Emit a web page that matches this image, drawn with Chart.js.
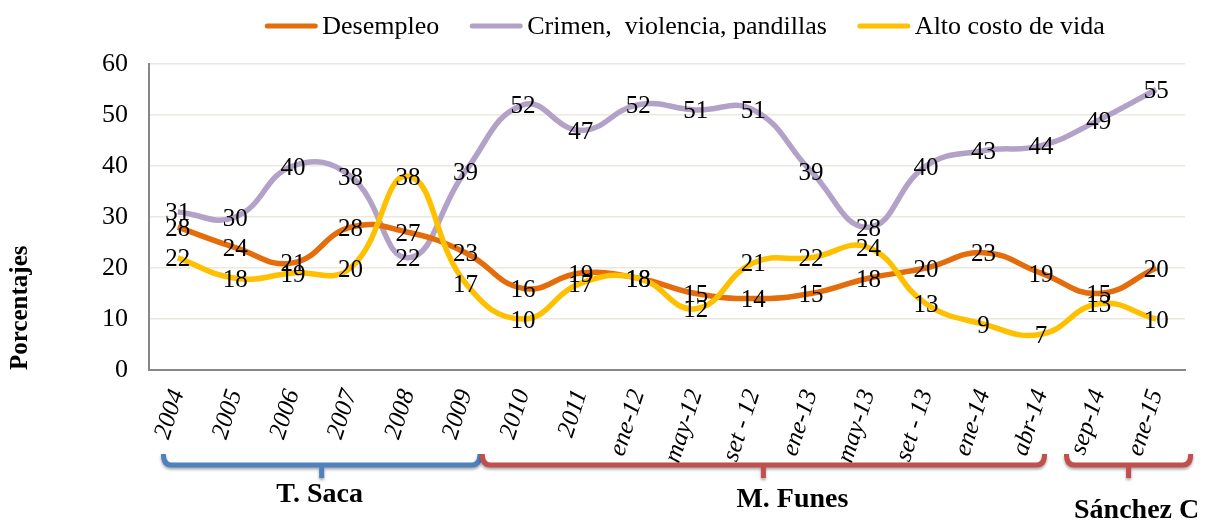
<!DOCTYPE html>
<html>
<head>
<meta charset="utf-8">
<script src="https://cdn.jsdelivr.net/npm/chart.js@4"></script>
<style>
  html, body { margin: 0; padding: 0; background: #fff; }
  #contenedor { width: 1205px; height: 522px; }
</style>
</head>
<body>
<div id="contenedor"><canvas id="grafico"></canvas></div>
<script>
// Datos
const categorias = ["2004", "2005", "2006", "2007", "2008", "2009", "2010", "2011",
  "ene-12", "may-12", "set - 12", "ene-13", "may-13", "set - 13", "ene-14", "abr-14",
  "sep-14", "ene-15"];
const desempleo = [28, 24, 21, 28, 27, 23, 16, 19, 18, 15, 14, 15, 18, 20, 23, 19, 15, 20];
const crimen = [31, 30, 40, 38, 22, 39, 52, 47, 52, 51, 51, 39, 28, 40, 43, 44, 49, 55];
const altoCosto = [22, 18, 19, 20, 38, 17, 10, 17, 18, 12, 21, 22, 24, 13, 9, 7, 13, 10];
const nombresSeries = ["Desempleo", "Crimen,  violencia, pandillas", "Alto costo de vida"];
const gobiernos = ["T. Saca", "M. Funes", "Sánchez C"];
const yMin = 0, yMax = 60, yPaso = 10;

const fuente = "Liberation Serif";

// Etiquetas de valor centradas en cada punto
const etiquetasValores = {
  id: "etiquetasValores",
  afterDatasetsDraw(chart) {
    const ctx = chart.ctx;
    ctx.save();
    ctx.font = "25px '" + fuente + "'";
    ctx.fillStyle = "#000";
    ctx.textAlign = "center";
    ctx.textBaseline = "middle";
    chart.data.datasets.forEach((ds, i) => {
      chart.getDatasetMeta(i).data.forEach((pt, j) => {
        ctx.fillText(String(ds.data[j]), pt.x, pt.y + 2);
      });
    });
    ctx.restore();
  }
};

// Leyenda dibujada a mano (centrada como en el original)
const leyenda = {
  id: "leyenda",
  afterDraw(chart) {
    const ctx = chart.ctx;
    const largo = 52, hueco = 5, sep = 31, y = 26;
    ctx.save();
    ctx.font = "26px '" + fuente + "'";
    const anchos = chart.data.datasets.map(ds => ctx.measureText(ds.label).width);
    const total = anchos.reduce((a, w) => a + largo + hueco + w, 0) + sep * (anchos.length - 1);
    let x = 685 - total / 2;
    chart.data.datasets.forEach((ds, i) => {
      ctx.strokeStyle = ds.borderColor;
      ctx.lineWidth = 5;
      ctx.lineCap = "round";
      ctx.beginPath();
      ctx.moveTo(x + 2, y);
      ctx.lineTo(x + largo - 2, y);
      ctx.stroke();
      ctx.fillStyle = "#000";
      ctx.textAlign = "left";
      ctx.textBaseline = "middle";
      ctx.fillText(ds.label, x + largo + hueco, y + 1);
      x += largo + hueco + anchos[i] + sep;
    });
    ctx.restore();
  }
};

// Llaves de los periodos presidenciales bajo el eje
const llaves = {
  id: "llaves",
  afterDraw(chart) {
    const ctx = chart.ctx;
    const xs = chart.scales.x;
    const tramos = [
      { desde: -0.25, hasta: 5.25, color: "#4F81BD", dx: -2, yTexto: 495 },
      { desde: 5.29, hasta: 15.06, color: "#C0504D", dx: 29, yTexto: 500 },
      { desde: 15.44, hasta: 17.6, color: "#C0504D", dx: 8, yTexto: 511 }
    ];
    ctx.save();
    tramos.forEach((t, i) => {
      const x0 = xs.getPixelForValue(t.desde);
      const x1 = xs.getPixelForValue(t.hasta);
      const xm = (x0 + x1) / 2;
      const yArriba = 454, yLinea = 465, yAbajo = 478;
      ctx.save();
      ctx.shadowColor = "rgba(0,0,0,0.35)";
      ctx.shadowBlur = 3;
      ctx.shadowOffsetY = 2;
      ctx.strokeStyle = t.color;
      ctx.lineWidth = 5;
      ctx.lineJoin = "round";
      ctx.lineCap = "butt";
      ctx.beginPath();
      ctx.moveTo(x0, yArriba);
      ctx.quadraticCurveTo(x0, yLinea, x0 + 8, yLinea);
      ctx.lineTo(x1 - 8, yLinea);
      ctx.quadraticCurveTo(x1, yLinea, x1, yArriba);
      ctx.moveTo(xm, yLinea);
      ctx.lineTo(xm, yAbajo);
      ctx.stroke();
      ctx.restore();
      ctx.font = "bold 28px '" + fuente + "'";
      ctx.fillStyle = "#000";
      ctx.textAlign = "center";
      ctx.textBaseline = "middle";
      ctx.fillText(gobiernos[i], xm + t.dx, t.yTexto);
    });
    ctx.restore();
  }
};

const ctx = document.getElementById("grafico").getContext("2d");
const grafico = new Chart(ctx, {
  type: "line",
  data: {
    labels: categorias,
    datasets: [
      { label: nombresSeries[0], data: desempleo, borderColor: "#E46C0A", order: 1 },
      { label: nombresSeries[1], data: crimen, borderColor: "#B3A2C7", order: 2 },
      { label: nombresSeries[2], data: altoCosto, borderColor: "#FFC000", order: 0 }
    ]
  },
  options: {
    responsive: true,
    maintainAspectRatio: false,
    animation: false,
    devicePixelRatio: 1,
    layout: { padding: { top: 64, right: 20, bottom: 0, left: 0 } },
    elements: {
      line: { borderWidth: 5.5, tension: 0.45, fill: false },
      point: { radius: 0, hoverRadius: 0 }
    },
    plugins: {
      legend: { display: false },
      tooltip: { enabled: false }
    },
    scales: {
      x: {
        offset: true,
        grid: { display: false },
        border: { color: "#868686", width: 2 },
        ticks: {
          autoSkip: false,
          minRotation: 72,
          maxRotation: 72,
          padding: 8,
          color: "#000",
          font: { family: fuente, size: 25, style: "italic" }
        },
        afterFit(escala) { escala.height = 152; }
      },
      y: {
        min: yMin,
        max: yMax,
        grid: { color: "#ECE8E0", lineWidth: 1.5, drawTicks: false },
        border: { color: "#868686", width: 2 },
        ticks: {
          stepSize: yPaso,
          padding: 21,
          color: "#000",
          font: { family: fuente, size: 26 }
        },
        title: {
          display: true,
          text: "Porcentajes",
          align: "start",
          color: "#000",
          font: { family: fuente, size: 25, weight: "bold" },
          padding: { top: 6, bottom: 0 }
        },
        afterFit(escala) { escala.width = 149; }
      }
    }
  },
  plugins: [etiquetasValores, leyenda, llaves]
});
</script>
</body>
</html>
